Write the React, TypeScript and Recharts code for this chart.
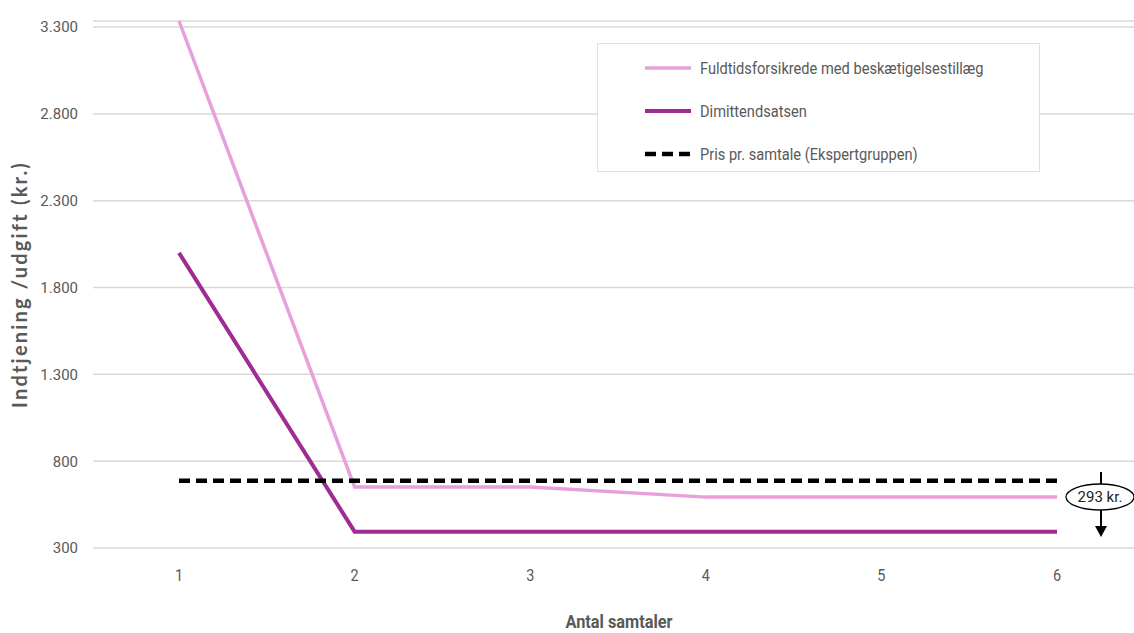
import { LineChart, Line, XAxis, YAxis, CartesianGrid, Legend } from "recharts";

const samtaler = [1, 2, 3, 4, 5, 6];
const fuldtids = [3335, 652, 652, 593, 593, 593];
const dimittend = [2000, 394, 394, 394, 394, 394];
const pris = [687, 687, 687, 687, 687, 687];
const yTicks = [300, 800, 1300, 1800, 2300, 2800, 3300];
const seriesNames = [
  "Fuldtidsforsikrede med beskætigelsestillæg",
  "Dimittendsatsen",
  "Pris pr. samtale (Ekspertgruppen)"
];

const data = samtaler.map((n, i) => ({
  n,
  fuldtids: fuldtids[i],
  dimittend: dimittend[i],
  pris: pris[i]
}));

const FONT = "Roboto, sans-serif";
const GREY = "#595959";

const fmt = (v: number) => String(v).replace(/\B(?=(\d{3})+(?!\d))/g, ".");

// legend drawn as a boxed list, kept in the series order (recharts sorts by name otherwise)
const LegendBox = ({ payload }: any) => {
  const items = (payload || [])
    .slice()
    .sort((a: any, b: any) => seriesNames.indexOf(a.value) - seriesNames.indexOf(b.value));
  return (
    <div
      style={{
        width: 443,
        height: 129,
        boxSizing: "border-box",
        border: "1px solid #e0e0e0",
        background: "#fff",
        paddingLeft: 46,
        paddingTop: 2,
        fontFamily: FONT,
        fontSize: 17,
        color: GREY
      }}
    >
      {items.map((p: any) => (
        <div key={p.value} style={{ display: "flex", alignItems: "center", height: 43 }}>
          <svg width={48} height={8} style={{ marginRight: 8 }}>
            <line
              x1={1}
              x2={47}
              y1={4}
              y2={4}
              stroke={p.color}
              strokeWidth={p.payload?.strokeWidth ?? 4}
              strokeDasharray={p.payload?.strokeDasharray}
            />
          </svg>
          <span
            style={{
              display: "inline-block",
              whiteSpace: "nowrap",
              transform: "scaleX(0.86)",
              transformOrigin: "left center"
            }}
          >
            {p.value}
          </span>
        </div>
      ))}
    </div>
  );
};

const YTitle = ({ viewBox }: any) => {
  const cy = viewBox.y + viewBox.height / 2;
  return (
    <text
      x={27}
      y={cy}
      transform={`rotate(-90, 27, ${cy})`}
      textAnchor="middle"
      fontFamily="Lato, sans-serif"
      fontWeight={700}
      fontSize={20}
      letterSpacing={2.2}
      fill={GREY}
    >
      Indtjening /udgift (kr.)
    </text>
  );
};

const XTitle = ({ viewBox }: any) => {
  const cx = viewBox.x + viewBox.width / 2;
  return (
    <text
      transform={`translate(${cx}, 628) scale(0.86, 1)`}
      textAnchor="middle"
      fontFamily={FONT}
      fontWeight={700}
      fontSize={19}
      fill={GREY}
    >
      Antal samtaler
    </text>
  );
};

const XTick = ({ x, y, payload }: any) => (
  <text
    transform={`translate(${x}, ${y}) scale(0.85, 1)`}
    dy="0.71em"
    textAnchor="middle"
    fontFamily={FONT}
    fontSize={17}
    fill={GREY}
  >
    {payload.value}
  </text>
);

export default function App() {
  return (
    <div
      style={{
        position: "absolute",
        left: 0,
        top: 0,
        width: 1134,
        height: 633,
        overflow: "hidden",
        background: "#fff"
      }}
    >
      <LineChart
        width={1150}
        height={633}
        data={data}
        margin={{ top: 21, right: 5, bottom: 0, left: 18 }}
      >
        <CartesianGrid vertical={false} stroke="#d9d9d9" strokeWidth={1.5} />
        <XAxis
          dataKey="n"
          height={85}
          padding={{ left: 86, right: 88 }}
          axisLine={false}
          tickLine={false}
          tickSize={6}
          tickMargin={15}
          tick={<XTick />}
          label={<XTitle />}
        />
        <YAxis
          width={75}
          domain={[300, 3300]}
          ticks={yTicks}
          tickFormatter={fmt}
          axisLine={false}
          tickLine={false}
          tickSize={6}
          tickMargin={9}
          tick={{ fontSize: 15, fill: GREY, fontFamily: FONT }}
          label={<YTitle />}
        />
        <Legend
          layout="vertical"
          align="center"
          verticalAlign="middle"
          content={<LegendBox />}
          wrapperStyle={{ left: 597, top: 43, width: 443 }}
        />
        <Line
          dataKey="fuldtids"
          name={seriesNames[0]}
          stroke="#e8a0dc"
          strokeWidth={3.5}
          dot={false}
          isAnimationActive={false}
        />
        <Line
          dataKey="dimittend"
          name={seriesNames[1]}
          stroke="#a02b93"
          strokeWidth={4}
          dot={false}
          isAnimationActive={false}
        />
        <Line
          dataKey="pris"
          name={seriesNames[2]}
          stroke="#000"
          strokeWidth={4.5}
          strokeDasharray="11 6"
          dot={false}
          isAnimationActive={false}
        />
      </LineChart>
      <svg
        width={1134}
        height={633}
        style={{ position: "absolute", left: 0, top: 0, pointerEvents: "none" }}
      >
        <line x1={1101} x2={1101} y1={472} y2={528} stroke="#000" strokeWidth={2} />
        <polygon points="1095,526 1107,526 1101,537" fill="#000" />
        <ellipse cx={1100} cy={497} rx={34} ry={13} fill="#fff" stroke="#000" strokeWidth={1.3} />
        <text
          x={1100}
          y={502}
          textAnchor="middle"
          fontFamily={FONT}
          fontSize={15}
          fill="#222"
        >
          293 kr.
        </text>
      </svg>
    </div>
  );
}
